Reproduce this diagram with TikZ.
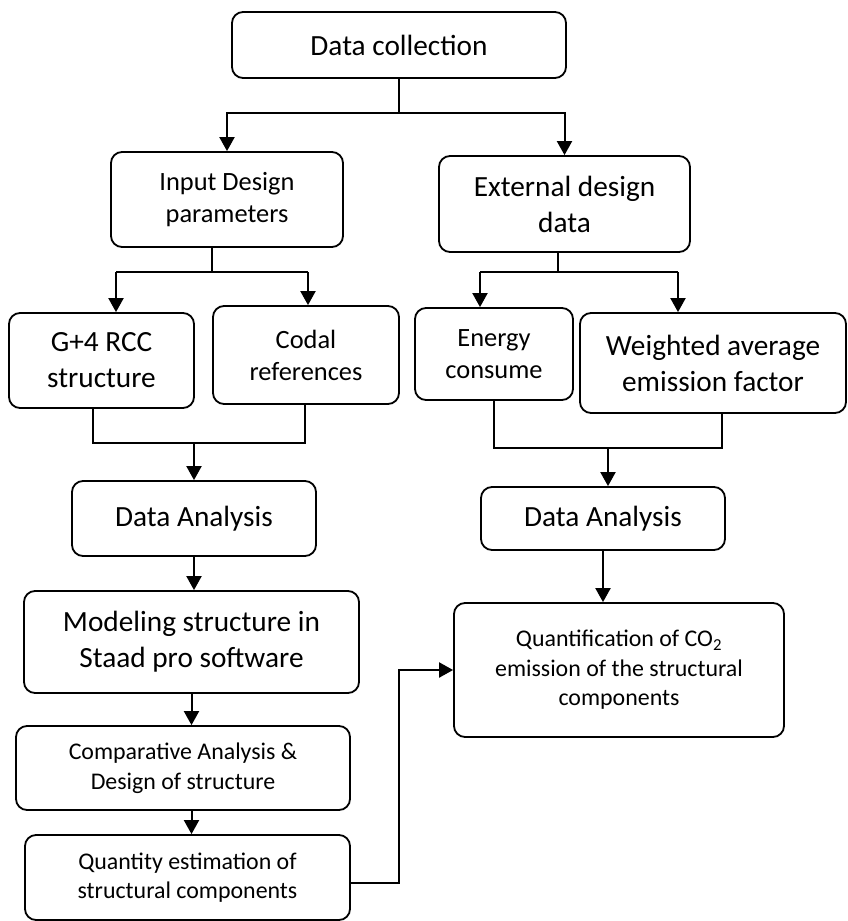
\documentclass[tikz,border=0pt]{standalone}
\usepackage{fontspec}
\setmainfont{Carlito}
\usetikzlibrary{arrows.meta}

\begin{document}
\begin{tikzpicture}[x=1pt,y=-1pt,
  procbox/.style={draw,rounded corners=11pt,line width=1.8pt,align=center,inner sep=0pt},
  bigtxt/.style={font=\fontsize{29.3}{36}\selectfont},
  midtxt/.style={font=\fontsize{26.4}{32}\selectfont},
  smalltxt/.style={font=\fontsize{23.9}{29.5}\selectfont},
  link/.style={line width=2pt},
  linkarrow/.style={line width=2pt,-{Triangle[length=14pt,width=15pt]}}]
  \useasboundingbox (0,0) rectangle (848,921); %page frame

  % boxes
  \node[procbox,bigtxt,minimum width=334,minimum height=66] (coll) at (399,45) {Data collection};
  \node[procbox,midtxt,minimum width=232,minimum height=95] (inp) at (227,199.5) {Input Design\\parameters};
  \node[procbox,bigtxt,minimum width=251,minimum height=96] (ext) at (564.5,204) {External design\\data};
  \node[procbox,bigtxt,minimum width=185,minimum height=95] (rcc) at (101.5,360.5) {G+4 RCC\\structure};
  \node[procbox,midtxt,minimum width=186,minimum height=98] (codal) at (306,355) {Codal\\references};
  \node[procbox,midtxt,minimum width=158,minimum height=92] (energy) at (494,354) {Energy\\consume};
  \node[procbox,bigtxt,minimum width=266,minimum height=100] (weight) at (713,363) {Weighted average\\emission factor};
  \node[procbox,bigtxt,minimum width=244,minimum height=75] (anaL) at (194,518.5) {Data Analysis};
  \node[procbox,bigtxt,minimum width=244,minimum height=63] (anaR) at (603,518.5) {Data Analysis};
  \node[procbox,bigtxt,minimum width=335,minimum height=102] (model) at (191.5,642) {Modeling structure in\\Staad pro software};
  \node[procbox,smalltxt,minimum width=334,minimum height=84] (comp) at (183,768) {Comparative Analysis \&\\Design of structure};
  \node[procbox,smalltxt,minimum width=325,minimum height=85] (quant) at (187.5,877.5) {Quantity estimation of\\structural components};
  \node[procbox,smalltxt,minimum width=330,minimum height=134] (co2) at (619,670) {Quantification of CO\textsubscript{2}\\emission of the structural\\components};

  % split below data collection
  \coordinate (busA) at (399,113);
  \draw[link] (coll) -- (busA);
  \draw[linkarrow] (busA) -| (inp);
  \draw[linkarrow] (busA) -| (ext);

  % split below input design parameters
  \coordinate (busBl) at (116,272);
  \coordinate (busBr) at (308,272);
  \coordinate (busBs) at (212,272);
  \draw[link] (inp.south -| busBs) -- (busBs);
  \draw[link] (busBl) -- (busBr);
  \draw[linkarrow] (busBl) -- (busBl |- rcc.north);
  \draw[linkarrow] (busBr) -- (busBr |- codal.north);

  % split below external design data
  \coordinate (busCl) at (480,272);
  \coordinate (busCr) at (678,272);
  \coordinate (busCs) at (558,272);
  \draw[link] (ext.south -| busCs) -- (busCs);
  \draw[link] (busCl) -- (busCr);
  \draw[linkarrow] (busCl) -- (busCl |- energy.north);
  \draw[linkarrow] (busCr) -- (busCr |- weight.north);

  % join into left data analysis
  \coordinate (busDl) at (93,443);
  \coordinate (busDr) at (305,443);
  \coordinate (busDs) at (194,443);
  \draw[link] (rcc.south -| busDl) -- (busDl) -- (busDr) -- (codal.south -| busDr);
  \draw[linkarrow] (busDs) -- (anaL);

  % join into right data analysis
  \coordinate (busEl) at (494,448);
  \coordinate (busEr) at (722,448);
  \coordinate (busEs) at (608,448);
  \draw[link] (energy) -- (busEl) -- (busEr) -- (weight.south -| busEr);
  \draw[linkarrow] (busEs) -- (busEs |- anaR.north);

  % main chains
  \draw[linkarrow] (anaL) -- (anaL |- model.north);
  \draw[linkarrow] (anaR) -- (anaR |- co2.north);
  \draw[linkarrow] (model.south) -- (model.south |- comp.north);
  \draw[linkarrow] (model.south |- comp.south) -- (model.south |- quant.north);

  % quantities to emission
  \coordinate (turn) at (399,883);
  \draw[linkarrow] (quant.east |- turn) -- (turn) |- (co2.west);
\end{tikzpicture}
\end{document}
